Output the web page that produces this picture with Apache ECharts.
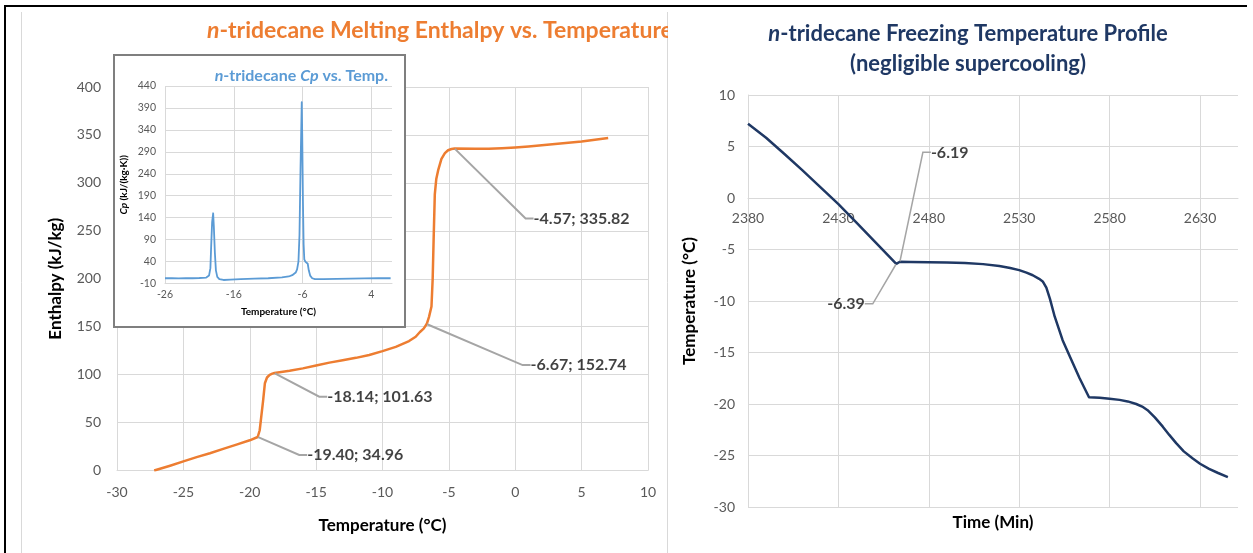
<!DOCTYPE html>
<html><head><meta charset="utf-8">
<script src="https://cdn.jsdelivr.net/npm/echarts@6.0.0/dist/echarts.min.js"></script>
<style>
html,body{margin:0;padding:0;background:#fff;}
#wrap{position:relative;width:1253px;height:553px;overflow:hidden;background:#fff;}
#left{position:absolute;left:0;top:0;width:668px;height:553px;}
#right{position:absolute;left:668px;top:0;width:585px;height:553px;}
.fTop{position:absolute;left:4px;top:5px;width:1243px;height:2px;background:#000;}
.fLeft{position:absolute;left:4px;top:5px;width:2px;height:548px;background:#000;}
</style></head>
<body><div id="wrap"><div id="left"></div><div id="right"></div><div class="fTop"></div><div class="fLeft"></div></div>
<script>
// ---------- DATA ----------
const enthalpyTemp = [-27.2,-26,-25,-24,-23,-22,-21,-20,-19.4,-19.25,-19.1,-19.0,-18.86,-18.7,-18.5,-18.3,-18.14,-17,-16,-15,-14,-13,-12,-11,-10,-9,-8,-7.5,-7.18,-6.9,-6.67,-6.5,-6.31,-6.22,-6.15,-6.06,-5.95,-5.81,-5.56,-5.3,-5.06,-4.8,-4.57,-3,-2,-1,0,1,2,3,4,5,6,7];
const enthalpyVal  = [0,5,9.5,14,18,22.5,27,31.5,34.96,42,60,72,91,97,99.8,101,101.63,104,106.5,109.5,112.5,115,117.5,120.5,124.5,129,135,139.5,144.5,148,152.74,160,171,200,240,288,304,313,325,331,334,335.3,335.82,335.5,335.6,336.2,337,338,339.3,340.6,341.8,343.2,345,346.8];

const cpTemp = [-26,-25,-24,-23,-22,-21,-20,-19.6,-19.4,-19.3,-19.15,-19.0,-18.9,-18.75,-18.6,-18.4,-18.1,-17.5,-16.5,-15,-13,-11,-9,-8,-7.5,-7,-6.8,-6.6,-6.45,-6.3,-6.12,-6.05,-5.95,-5.85,-5.75,-5.6,-5.4,-5.25,-5.1,-4.9,-4.6,-4.2,-3,-1,1,3,5,6.8];
const cpVal  = [2,2,1.5,2,2,2.5,3.5,8,25,70,130,150,120,60,20,5,0,-2,-1,0,1,2,4,6,9,15,22,40,100,250,403,330,180,80,45,40,38,35,20,8,2,0,0,0.5,1,1.5,2,2];

const freezeTime = [2380,2390,2400,2410,2420,2430,2440,2450,2462,2464,2470,2480,2490,2500,2510,2519,2525,2530,2534,2537.5,2541,2543,2545,2547,2549.6,2554,2558,2563.4,2568.6,2574.5,2580,2585.5,2590,2594.7,2598,2601,2605,2609.4,2613,2616.8,2621,2626,2630,2635,2640,2645.4];
const freezeTemp = [7.2,5.85,4.3,2.7,1.05,-0.6,-2.4,-4.2,-6.39,-6.19,-6.22,-6.24,-6.27,-6.32,-6.42,-6.6,-6.8,-7.0,-7.25,-7.5,-7.85,-8.1,-8.7,-9.8,-11.5,-13.8,-15.4,-17.5,-19.35,-19.4,-19.5,-19.6,-19.75,-20.0,-20.25,-20.6,-21.3,-22.2,-23.0,-23.8,-24.6,-25.3,-25.8,-26.3,-26.7,-27.1];

const enthalpyCallouts = [[-4.57,335.82],[-6.67,152.74],[-18.14,101.63],[-19.40,34.96]];
const freezeCallouts = [[2464,-6.19],[2462,-6.39]];

// ---------- STYLE / LAYOUT ----------
const enthalpyLabelOffsets = [[78.5,70],[103.4,41],[52.3,23.6],[49,18]];
const freezeLabelCfg = [
  {pos:'right', off:[30.5,-109.4], pad:[0,100,0,0]},
  {pos:'left', off:[-31,40], pad:[0,0,0,60]}
];
const FONT = 'Lato, "Noto Sans", sans-serif';
const GRID_C = '#D9D9D9';
const TICK_C = '#595959';
const CALLOUT_TEXT = {fontFamily:FONT, fontSize:16, fontWeight:'bold', color:'#111'};

function zip(a,b){ return a.map((v,i)=>[v,b[i]]); }

// ---------- LEFT CHART ----------
const left = echarts.init(document.getElementById('left'), null, {renderer:'canvas'});
left.setOption({
  animation:false,
  backgroundColor:'#fff',
  textStyle:{fontFamily:FONT},
  title:[
    {text:'{i|n}-tridecane Melting Enthalpy vs. Temperature', left:207, top:19, padding:0,
     textStyle:{fontFamily:FONT, fontSize:23, fontWeight:'bold', color:'#ED7D31',
       rich:{i:{fontFamily:FONT, fontSize:23, fontWeight:'bold', fontStyle:'italic', color:'#ED7D31'}}}},
    {text:'{i|n}-tridecane {i|Cp} vs. Temp.', right:280, top:68, padding:0, z:8,
     textStyle:{fontFamily:FONT, fontSize:16, fontWeight:'bold', color:'#5B9BD5',
       rich:{i:{fontFamily:FONT, fontSize:16, fontWeight:'bold', fontStyle:'italic', color:'#5B9BD5'}}}}
  ],
  graphic:{elements:[
    {type:'line', z:1, shape:{x1:21.5,y1:12,x2:21.5,y2:553}, style:{stroke:GRID_C, lineWidth:1}},
    {type:'line', z:1, shape:{x1:667.5,y1:12,x2:667.5,y2:553}, style:{stroke:GRID_C, lineWidth:1}},
    {type:'rect', z:3, shape:{x:114, y:55, width:291, height:272}, style:{fill:'#fff', stroke:'#7F7F7F', lineWidth:2}}
  ]},
  grid:[
    {left:117, top:87, width:531, height:383.5, outerBoundsMode:'none', containLabel:false},
    {left:165, top:86, width:227, height:197.5, outerBoundsMode:'none', containLabel:false}
  ],
  xAxis:[
    {type:'value', gridIndex:0, min:-30, max:10, interval:5,
     axisLine:{show:true, onZero:false, lineStyle:{color:GRID_C}}, axisTick:{show:false},
     axisLabel:{color:TICK_C, fontSize:14, fontFamily:FONT, margin:15},
     splitLine:{show:true, lineStyle:{color:GRID_C, width:1}},
     name:'Temperature (°C)', nameLocation:'middle', nameGap:47, nameMoveOverlap:false,
     nameTextStyle:{fontFamily:FONT, fontSize:17, fontWeight:'bold', color:'#000'}},
    {type:'value', gridIndex:1, min:-26, max:7, interval:10, z:4,
     axisLine:{show:true, onZero:false, lineStyle:{color:GRID_C}}, axisTick:{show:false},
     axisLabel:{color:TICK_C, fontSize:10.5, fontFamily:FONT, margin:6, showMaxLabel:false},
     splitLine:{show:true, showMaxLine:false, lineStyle:{color:GRID_C, width:1}},
     name:'Temperature (°C)', nameLocation:'middle', nameGap:23, nameMoveOverlap:false,
     nameTextStyle:{fontFamily:FONT, fontSize:10, fontWeight:'bold', color:'#000'}}
  ],
  yAxis:[
    {type:'value', gridIndex:0, min:0, max:400, interval:50,
     axisLine:{show:true, onZero:false, lineStyle:{color:GRID_C}}, axisTick:{show:false},
     axisLabel:{color:TICK_C, fontSize:14, fontFamily:FONT, margin:16},
     splitLine:{show:true, lineStyle:{color:GRID_C, width:1}},
     name:'Enthalpy (kJ/kg)', nameLocation:'middle', nameGap:53, nameMoveOverlap:false,
     nameTextStyle:{fontFamily:FONT, fontSize:17, fontWeight:'bold', color:'#000'}},
    {type:'value', gridIndex:1, min:-10, max:440, interval:50, z:4,
     axisLine:{show:false, onZero:false}, axisTick:{show:false},
     axisLabel:{color:TICK_C, fontSize:10.5, fontFamily:FONT, margin:9},
     splitLine:{show:true, lineStyle:{color:GRID_C, width:1}},
     name:'{i|Cp} (kJ/(kg·K))', nameLocation:'middle', nameGap:36, nameMoveOverlap:false,
     nameTextStyle:{fontFamily:FONT, fontSize:10, fontWeight:'bold', color:'#000',
       rich:{i:{fontFamily:FONT, fontSize:10, fontWeight:'bold', fontStyle:'italic', color:'#000'}}}}
  ],
  series:[
    {type:'line', xAxisIndex:0, yAxisIndex:0, data:zip(enthalpyTemp, enthalpyVal), showSymbol:false,
     smooth:false, z:2, lineStyle:{color:'#ED7D31', width:2.5, join:'round'}, silent:true},
    {type:'line', xAxisIndex:1, yAxisIndex:1, data:zip(cpTemp, cpVal), showSymbol:false,
     smooth:false, z:5, lineStyle:{color:'#5B9BD5', width:1.8, join:'round'}, silent:true},
    {type:'scatter', xAxisIndex:0, yAxisIndex:0, data:enthalpyCallouts, symbolSize:1, z:4, silent:true,
     itemStyle:{color:'rgba(0,0,0,0)'},
     label:Object.assign({show:true, position:'right', distance:0,
       formatter:p=>p.value[0].toFixed(2)+'; '+p.value[1].toFixed(2)}, CALLOUT_TEXT),
     labelLayout:p=>({dx:enthalpyLabelOffsets[p.dataIndex][0], dy:enthalpyLabelOffsets[p.dataIndex][1]}),
     labelLine:{show:true, length2:8, minTurnAngle:0, lineStyle:{color:'#A5A5A5', width:2}}}
  ]
});

// ---------- RIGHT CHART ----------
const right = echarts.init(document.getElementById('right'), null, {renderer:'canvas'});
right.setOption({
  animation:false,
  backgroundColor:'#fff',
  textStyle:{fontFamily:FONT},
  title:{text:'{i|n}-tridecane Freezing Temperature Profile\n(negligible supercooling)', left:300, textAlign:'center', top:19, padding:0,
    textStyle:{fontFamily:FONT, fontSize:22, fontWeight:'bold', color:'#1F3864', lineHeight:30,
      rich:{i:{fontFamily:FONT, fontSize:22, fontWeight:'bold', fontStyle:'italic', color:'#1F3864', lineHeight:30}}}},
  grid:{left:80, top:95, width:490, height:412, outerBoundsMode:'none', containLabel:false},
  xAxis:[
    {type:'value', min:2380, max:2651, interval:50, position:'bottom', offset:-309,
     axisLine:{show:true, onZero:false, lineStyle:{color:GRID_C}}, axisTick:{show:false},
     axisLabel:{color:TICK_C, fontSize:14, fontFamily:FONT, margin:13, showMaxLabel:false, formatter:v=>String(v)},
     splitLine:{show:true, showMaxLine:false, lineStyle:{color:GRID_C, width:1}}},
    {type:'value', min:2380, max:2651, position:'bottom',
     axisLine:{show:false, onZero:false}, axisTick:{show:false}, axisLabel:{show:false}, splitLine:{show:false},
     name:'Time (Min)', nameLocation:'middle', nameGap:7, nameMoveOverlap:false,
     nameTextStyle:{fontFamily:FONT, fontSize:17, fontWeight:'bold', color:'#000'}}
  ],
  yAxis:{type:'value', min:-30, max:10, interval:5,
     axisLine:{show:true, onZero:false, lineStyle:{color:GRID_C}}, axisTick:{show:false},
     axisLabel:{color:TICK_C, fontSize:14, fontFamily:FONT, margin:13},
     splitLine:{show:true, lineStyle:{color:GRID_C, width:1}},
     name:'Temperature (°C)', nameLocation:'middle', nameGap:50, nameMoveOverlap:false,
     nameTextStyle:{fontFamily:FONT, fontSize:17, fontWeight:'bold', color:'#000'}},
  series:[
    {type:'line', xAxisIndex:0, data:zip(freezeTime, freezeTemp), showSymbol:false, smooth:false,
     lineStyle:{color:'#1F3864', width:2.5, join:'round'}, z:2, silent:true},
    {type:'scatter', xAxisIndex:0, symbolSize:1, z:4, silent:true,
     data:freezeCallouts.map((v,i)=>({value:v, label:{position:freezeLabelCfg[i].pos, padding:freezeLabelCfg[i].pad,
       backgroundColor:'rgba(255,255,255,0)'}})),
     itemStyle:{color:'rgba(0,0,0,0)'},
     label:Object.assign({show:true, distance:0, formatter:p=>p.value[1].toFixed(2)}, CALLOUT_TEXT),
     labelLayout:p=>({dx:freezeLabelCfg[p.dataIndex].off[0], dy:freezeLabelCfg[p.dataIndex].off[1]}),
     labelLine:{show:true, length2:8, minTurnAngle:0, lineStyle:{color:'#A5A5A5', width:1.5}}}
  ]
});
</script></body></html>
